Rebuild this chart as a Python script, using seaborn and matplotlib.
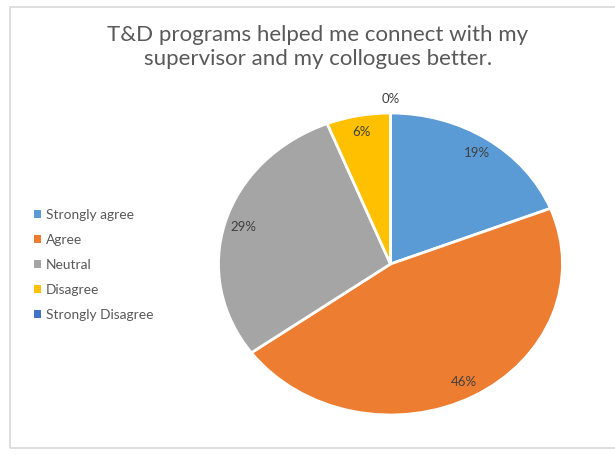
import matplotlib
matplotlib.use("Agg")
import matplotlib.pyplot as plt
import matplotlib.patches as mpatches
import numpy as np
import seaborn as sns

# Survey responses
categories = ["Strongly agree", "Agree", "Neutral", "Disagree", "Strongly Disagree"]
shares = [19, 46, 29, 6, 0]
colors = ["#5B9BD5", "#ED7D31", "#A5A5A5", "#FFC000", "#4472C4"]
title = "T&D programs helped me connect with my\nsupervisor and my collogues better."

sns.set_theme(style="white")
plt.rcParams["font.family"] = ["Lato", "DejaVu Sans"]

W, H = 615, 455
fig = plt.figure(figsize=(W / 100, H / 100), dpi=100)
fig.patch.set_facecolor("white")

# light chart border
fig.patches.append(mpatches.Rectangle((10 / W, 7 / H), 1.2, (H - 14) / H,
                                      transform=fig.transFigure, fill=False,
                                      edgecolor="#D9D9D9", linewidth=1.2))

# pie center / radii in pixels (slightly stretched horizontally)
cx, cy, rx, ry = 390.5, 264, 172, 151
x0, x1 = -1.3, 1.3
y0, y1 = -1.2, 1.25
left = (cx + x0 * rx) / W
width = (x1 - x0) * rx / W
bottom = (H - (cy - y0 * ry)) / H
height = (y1 - y0) * ry / H
ax = fig.add_axes([left, bottom, width, height])

wedges, _ = ax.pie(shares, colors=colors, startangle=90, counterclock=False,
                   wedgeprops=dict(edgecolor="white", linewidth=2))
ax.set_aspect("auto")
ax.set_xlim(x0, x1)
ax.set_ylim(y0, y1)
ax.axis("off")

# percentage labels placed along each wedge's mid-angle
for w, v in zip(wedges, shares):
    mid = np.deg2rad((w.theta1 + w.theta2) / 2)
    r = 0.89 if v > 0 else 1.09
    ax.text(r * np.cos(mid), r * np.sin(mid), f"{v}%", ha="center", va="center",
            fontsize=9.5, color="#404040")

fig.text(318 / W, 1 - 47 / H, title, ha="center", va="center",
         fontsize=16, color="#595959", linespacing=1.27)

handles = [mpatches.Patch(facecolor=c, edgecolor="none") for c in colors]
fig.legend(handles, categories, loc="center left",
           bbox_to_anchor=(22 / W, 1 - 265 / H), frameon=False,
           fontsize=9.9, labelcolor="#595959", handlelength=0.5, handleheight=0.5,
           handletextpad=0.35, labelspacing=0.95)

fig.savefig("out.png", dpi=100, facecolor="white")
